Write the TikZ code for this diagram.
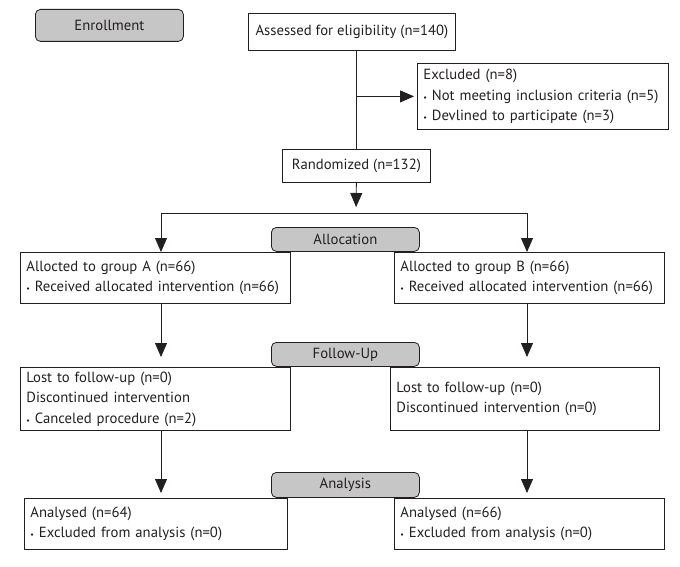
\documentclass[tikz,border=0pt]{standalone}
\usepackage{fontspec}
\setmainfont{PT Sans}
\usetikzlibrary{arrows.meta}
\definecolor{ink}{HTML}{231F20}
\definecolor{stagegray}{HTML}{C6C6C6}

\begin{document}
\begin{tikzpicture}[x=1pt,y=-1pt,
    font=\fontsize{14.7}{20.5}\selectfont, color=ink, line width=0.8pt,
    box/.style={draw=ink, rectangle, anchor=north west, inner xsep=6pt, inner ysep=0pt, align=left},
    stage/.style={draw=ink, fill=stagegray, rounded corners=5pt, anchor=north west,
        inner sep=0pt, minimum width=148, minimum height=24},
    arr/.style={-{Triangle[width=12pt,length=14pt]}}]
                    \useasboundingbox (0,0) rectangle (680,567);
                    \node[stage, minimum height=32] (enroll) at (35,9) {Enrollment};
                    \node[stage] (alloc) at (271,227) {Allocation};
                    \node[stage] (follow) at (271,342) {Follow-Up};
                    \node[stage, minimum height=25] (analysis) at (271,472) {Analysis};
                    \node[box, align=center, minimum width=207, minimum height=37] (assess) at (248,13) {Assessed for eligibility (n=140)};
                    \node[box, align=center, minimum width=148, minimum height=33] (rand) at (282,149) {Randomized (n=132)};
                    \node[box, text width=239, minimum height=66] (excl) at (417,63) {Excluded (n=8)\\{\footnotesize\textbullet} Not meeting inclusion criteria (n=5)\\{\footnotesize\textbullet} Devlined to participate (n=3)};
                    \node[box, text width=258, minimum height=51] (grpA) at (20,252) {Allocted to group A (n=66)\\{\footnotesize\textbullet} Received allocated intervention (n=66)};
                    \node[box, text width=258, minimum height=51] (grpB) at (394,252) {Allocted to group B (n=66)\\{\footnotesize\textbullet} Received allocated intervention (n=66)};
                    \node[box, text width=258, minimum height=63] (lostA) at (20,367) {Lost to follow-up (n=0)\\Discontinued intervention\\{\footnotesize\textbullet} Canceled procedure (n=2)};
                    \node[box, text width=257, minimum height=63] (lostB) at (390,367) {Lost to follow-up (n=0)\\Discontinued intervention (n=0)};
                    \node[box, text width=251, minimum height=51] (anA) at (24,498) {Analysed (n=64)\\{\footnotesize\textbullet} Excluded from analysis (n=0)};
                    \node[box, text width=258, minimum height=51] (anB) at (394,498) {Analysed (n=66)\\{\footnotesize\textbullet} Excluded from analysis (n=0)};
                    \coordinate (split) at (356,213);
                    \coordinate (colA) at (161,213);
                    \coordinate (colB) at (527,213);
                    \draw (assess.south -| rand.north) -- (rand.north);
                    \draw[arr, shorten >=3pt] (rand.north |- excl.west) -- (excl.west);
                    \draw[arr, shorten >=6pt] (rand.south) -- (split);
                    \draw[arr] (split) -- (colA) -- (colA |- grpA.north);
                    \draw[arr] (split) -- (colB) -- (colB |- grpB.north);
                    \draw[arr, shorten >=10pt] (colA |- grpA.south) -- (colA |- lostA.north);
                    \draw[arr, shorten >=10pt] (colB |- grpB.south) -- (colB |- lostB.north);
                    \draw[arr, shorten >=5pt] (colA |- lostA.south) -- (colA |- anA.north);
                    \draw[arr, shorten >=5pt] (colB |- lostB.south) -- (colB |- anB.north);
                \end{tikzpicture}
\end{document}
